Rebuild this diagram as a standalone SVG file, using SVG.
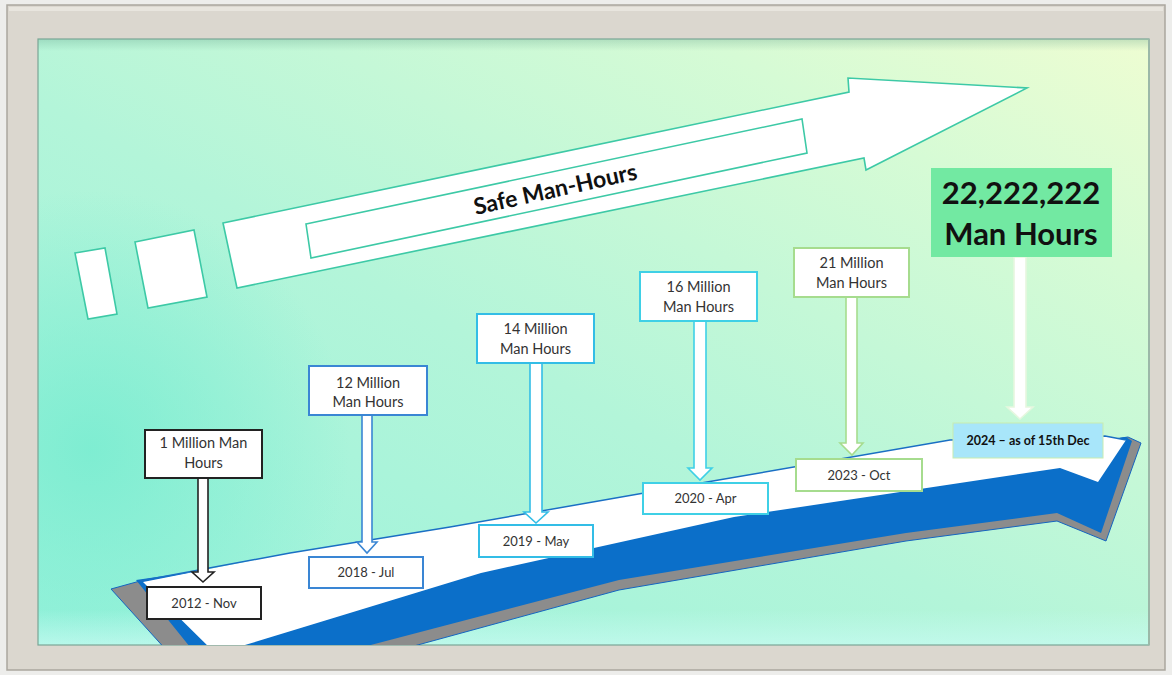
<svg xmlns="http://www.w3.org/2000/svg" width="1172" height="675" viewBox="0 0 1172 675">
  <defs>
    <linearGradient id="panelGrad" x1="0" y1="1" x2="1" y2="0">
      <stop offset="0" stop-color="#98f2dc"/>
      <stop offset="0.45" stop-color="#b3f5d9"/>
      <stop offset="0.8" stop-color="#d6fbd5"/>
      <stop offset="1" stop-color="#eefdd2"/>
    </linearGradient>
    <radialGradient id="spot" cx="90" cy="450" r="260" gradientUnits="userSpaceOnUse">
      <stop offset="0" stop-color="#78ecd0" stop-opacity="0.85"/>
      <stop offset="1" stop-color="#78ecd0" stop-opacity="0"/>
    </radialGradient>
    <linearGradient id="bottomGlow" x1="0" y1="0" x2="0" y2="1">
      <stop offset="0" stop-color="#c8fbf2" stop-opacity="0"/>
      <stop offset="1" stop-color="#c8fbf2" stop-opacity="0.7"/>
    </linearGradient>
    <linearGradient id="topShade" x1="0" y1="0" x2="0" y2="1">
      <stop offset="0" stop-color="#5f9f88" stop-opacity="0.3"/>
      <stop offset="1" stop-color="#5f9f88" stop-opacity="0"/>
    </linearGradient>
    <clipPath id="panelClip">
      <rect x="38" y="39" width="1111" height="606"/>
    </clipPath>
    <style>
      .lbl { font-family: Lato, "Open Sans", "Liberation Sans", sans-serif; fill: #333333; text-anchor: middle; }
      .big { font-size: 14.5px; }
      .date { font-size: 13px; }
      .bold { font-weight: bold; fill: #111111; }
      .node { fill: #ffffff; stroke-width: 2; }
      .teal { fill: #ffffff; stroke: #3dc9a6; stroke-width: 1.6; }
      .conn { fill: #ffffff; stroke-width: 1.6; stroke-linejoin: miter; }
    </style>
  </defs>

  <!-- page and frame -->
  <rect x="0" y="0" width="1172" height="675" fill="#ededeb"/>
  <rect x="7" y="5" width="1158" height="665" fill="#dbd7cf" stroke="#aaa69e" stroke-width="1.5"/>
  <rect x="9" y="7" width="1154" height="4" fill="#e8e5de"/>

  <!-- panel -->
  <g id="panel">
    <rect x="38" y="39" width="1111" height="606" fill="url(#panelGrad)"/>
    <rect x="38" y="39" width="1111" height="606" fill="url(#spot)"/>
    <rect x="38" y="610" width="1111" height="35" fill="url(#bottomGlow)"/>
    <rect x="38" y="39" width="1111" height="12" fill="url(#topShade)"/>
    <rect x="38" y="39" width="1111" height="606" fill="none" stroke="#7aa696" stroke-width="1.2"/>
    <line x1="1149" y1="39" x2="1149" y2="645" stroke="#9bb8a8" stroke-width="2"/>
  </g>

  <!-- Safe Man-Hours arrow -->
  <g id="safe-arrow">
    <polygon class="teal" points="75,253 105,248 117,314 88,319"/>
    <polygon class="teal" points="135,242 194,230 207,297 148,308"/>
    <polygon class="teal" points="223,223 849,92 848,78 1027,88 866,170 864,158 237,288"/>
    <polygon class="teal" points="306,224 802,119 807,153 311,258" stroke-width="1.3"/>
    <text class="lbl bold" x="557" y="197" font-size="23" transform="rotate(-12.5 557 197)">Safe Man-Hours</text>
  </g>

  <!-- timeline base arrow -->
  <g id="timeline-arrow" clip-path="url(#panelClip)">
    <polygon points="111,589 140,581 1128,437 1141,443 1106,541 1057,521 906,541 619,590 392,652 168,652" fill="#8c8c8c" stroke="#1565c0" stroke-width="1"/>
    <polygon points="136,580 1126,437 1132,441 1101,533 1057,513 906,533 619,580 344,652 194,652" fill="#0b6fc9"/>
    <polygon points="143,582 290,553 450,527 707,482 950,440 1105,436 1126,440 1098,482 1060,468 734,517 481,573 222,652 214,652" fill="#ffffff"/>
    <polyline points="140,581 290,553 450,527 707,482 950,440 1105,436 1126,440" fill="none" stroke="#1a6fc4" stroke-width="1.5"/>
  </g>

  <!-- connectors -->
  <g id="connectors">
    <polygon class="conn" stroke="#222222" points="198,478 208,478 208,572 214,572 203,582 192,572 198,572"/>
    <polygon class="conn" stroke="#3a86d4" points="362,415 372,415 372,542 377,542 367,553 357,542 362,542"/>
    <polygon class="conn" stroke="#33bde6" points="530,363 542,363 542,512 548,512 536,523 524,512 530,512"/>
    <polygon class="conn" stroke="#3fd0e6" points="694,321 706,321 706,468 712,468 700,480 688,468 694,468"/>
    <polygon class="conn" stroke="#a6dc8e" points="846,297 857,297 857,443 863,443 852,455 840,443 846,443"/>
    <polygon class="conn" stroke="#e6f7df" points="1014,257 1026,257 1026,407 1033,407 1020,419 1007,407 1014,407"/>
  </g>

  <!-- milestone nodes -->
  <g id="m1">
    <rect class="node" stroke="#222222" x="145" y="430" width="117" height="48"/>
    <text class="lbl big" x="203.5" y="448">1 Million Man</text>
    <text class="lbl big" x="203.5" y="468">Hours</text>
  </g>
  <g id="d2012">
    <rect class="node" stroke="#222222" x="147" y="587" width="114" height="32"/>
    <text class="lbl date" x="204" y="607.5">2012 - Nov</text>
  </g>

  <g id="m12">
    <rect class="node" stroke="#3a86d4" x="309" y="366" width="118" height="49"/>
    <text class="lbl big" x="368" y="388">12 Million</text>
    <text class="lbl big" x="368" y="407">Man Hours</text>
  </g>
  <g id="d2018">
    <rect class="node" stroke="#3a86d4" x="309" y="557" width="114" height="31"/>
    <text class="lbl date" x="366" y="577">2018 - Jul</text>
  </g>

  <g id="m14">
    <rect class="node" stroke="#33bde6" x="477" y="314" width="117" height="49"/>
    <text class="lbl big" x="535.5" y="334">14 Million</text>
    <text class="lbl big" x="535.5" y="354">Man Hours</text>
  </g>
  <g id="d2019">
    <rect class="node" stroke="#33bde6" x="479" y="525" width="114" height="32"/>
    <text class="lbl date" x="536" y="545.5">2019 - May</text>
  </g>

  <g id="m16">
    <rect class="node" stroke="#3fd0e6" x="640" y="272" width="117" height="49"/>
    <text class="lbl big" x="698.5" y="292">16 Million</text>
    <text class="lbl big" x="698.5" y="312">Man Hours</text>
  </g>
  <g id="d2020">
    <rect class="node" stroke="#3fd0e6" x="643" y="483" width="125" height="31"/>
    <text class="lbl date" x="705.5" y="503">2020 - Apr</text>
  </g>

  <g id="m21">
    <rect class="node" stroke="#a6dc8e" x="794" y="248" width="115" height="49"/>
    <text class="lbl big" x="851.5" y="268">21 Million</text>
    <text class="lbl big" x="851.5" y="288">Man Hours</text>
  </g>
  <g id="d2023">
    <rect class="node" stroke="#a6dc8e" x="796" y="459" width="126" height="32"/>
    <text class="lbl date" x="859" y="479.5">2023 - Oct</text>
  </g>

  <g id="total">
    <rect x="931" y="168" width="181" height="89" fill="#72e9a2"/>
    <text class="lbl bold" x="1021" y="204" font-size="31">22,222,222</text>
    <text class="lbl bold" x="1021" y="245" font-size="31">Man Hours</text>
  </g>
  <g id="d2024">
    <rect x="953" y="423" width="150" height="35" fill="#a8e6fa" stroke="#c8ecb0" stroke-width="1"/>
    <text class="lbl bold" x="1028" y="444.5" font-size="12.5">2024 – as of 15th Dec</text>
  </g>
</svg>
